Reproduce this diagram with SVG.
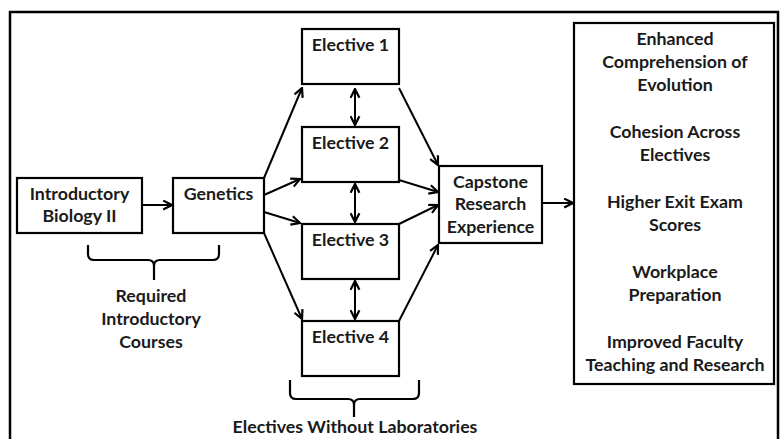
<svg xmlns="http://www.w3.org/2000/svg" width="780" height="439" viewBox="0 0 780 439">
<style>
.box{fill:#fff;stroke:#000;stroke-width:2.2}
.t{font-family:Lato,"Liberation Sans",sans-serif;font-weight:bold;font-size:17.8px;fill:#1a1a1a;text-anchor:middle}
.c{stroke:#000;stroke-width:2;fill:none}
.br{stroke:#000;stroke-width:2.2;fill:none}
</style>
<defs>
<marker id="ah" viewBox="0 0 10 10" refX="9" refY="5" markerWidth="11" markerHeight="11" markerUnits="userSpaceOnUse" orient="auto-start-reverse">
<path d="M1,1 L9,5 L1,9" fill="none" stroke="#000" stroke-width="2"/>
</marker>
</defs>
<rect x="0" y="0" width="780" height="439" fill="#fff"/>
<path d="M10,445 V12 H778 V445" fill="none" stroke="#000" stroke-width="2.5"/>

<g id="intro"><rect class="box" x="17" y="178" width="125" height="55"/>
<text class="t" x="79.5" y="200">Introductory</text><text class="t" x="79.5" y="222">Biology II</text></g>
<g id="genetics"><rect class="box" x="173" y="178" width="91" height="55"/>
<text class="t" x="218.5" y="200">Genetics</text></g>
<g id="e1"><rect class="box" x="302" y="29" width="97" height="55"/><text class="t" x="350.5" y="51">Elective 1</text></g>
<g id="e2"><rect class="box" x="302" y="127" width="97" height="55"/><text class="t" x="350.5" y="149">Elective 2</text></g>
<g id="e3"><rect class="box" x="302" y="224" width="97" height="55"/><text class="t" x="350.5" y="246">Elective 3</text></g>
<g id="e4"><rect class="box" x="302" y="321" width="97" height="55"/><text class="t" x="350.5" y="343">Elective 4</text></g>
<g id="capstone"><rect class="box" x="439" y="166" width="103" height="77"/>
<text class="t" x="490.5" y="188">Capstone</text><text class="t" x="490.5" y="210">Research</text><text class="t" x="490.5" y="233">Experience</text></g>
<g id="outcomes"><rect class="box" x="574" y="23" width="200" height="361"/>
<text class="t" x="675" y="45">Enhanced</text>
<text class="t" x="675" y="68">Comprehension of</text>
<text class="t" x="675" y="91">Evolution</text>
<text class="t" x="675" y="138">Cohesion Across</text>
<text class="t" x="675" y="161">Electives</text>
<text class="t" x="675" y="208">Higher Exit Exam</text>
<text class="t" x="675" y="231">Scores</text>
<text class="t" x="675" y="278">Workplace</text>
<text class="t" x="675" y="301">Preparation</text>
<text class="t" x="675" y="348">Improved Faculty</text>
<text class="t" x="675" y="371">Teaching and Research</text></g>

<g id="required-brace"><path class="br" d="M88,245 V254 Q88,260 94,260 H148 Q154,260 154,266 V280 M154,266 Q154,260 160,260 H213 Q219,260 219,254 V245"/>
<text class="t" x="151" y="302">Required</text><text class="t" x="151" y="325">Introductory</text><text class="t" x="151" y="348">Courses</text></g>
<g id="electives-brace"><path class="br" d="M290,380 V393 Q290,399 296,399 H348 Q354,399 354,405 V417 M354,405 Q354,399 360,399 H413 Q419,399 419,393 V380"/>
<text class="t" x="355" y="433">Electives Without Laboratories</text></g>

<g id="connectors">
<line class="c" x1="142" y1="205" x2="172" y2="205" marker-end="url(#ah)"/>
<line class="c" x1="264" y1="178" x2="302" y2="88" marker-end="url(#ah)"/>
<line class="c" x1="264" y1="195" x2="300" y2="179" marker-end="url(#ah)"/>
<line class="c" x1="264" y1="212" x2="300" y2="223" marker-end="url(#ah)"/>
<line class="c" x1="264" y1="233" x2="302" y2="319" marker-end="url(#ah)"/>
<line class="c" x1="399" y1="88" x2="438" y2="165" marker-end="url(#ah)"/>
<line class="c" x1="399" y1="180" x2="438" y2="192" marker-end="url(#ah)"/>
<line class="c" x1="399" y1="224" x2="438" y2="205" marker-end="url(#ah)"/>
<line class="c" x1="399" y1="321" x2="438" y2="245" marker-end="url(#ah)"/>
<line class="c" x1="355" y1="89" x2="355" y2="125" marker-start="url(#ah)" marker-end="url(#ah)"/>
<line class="c" x1="355" y1="184" x2="355" y2="222" marker-start="url(#ah)" marker-end="url(#ah)"/>
<line class="c" x1="355" y1="281" x2="355" y2="319" marker-start="url(#ah)" marker-end="url(#ah)"/>
<line class="c" x1="542" y1="203" x2="573" y2="203" marker-end="url(#ah)"/>
</g>
</svg>
